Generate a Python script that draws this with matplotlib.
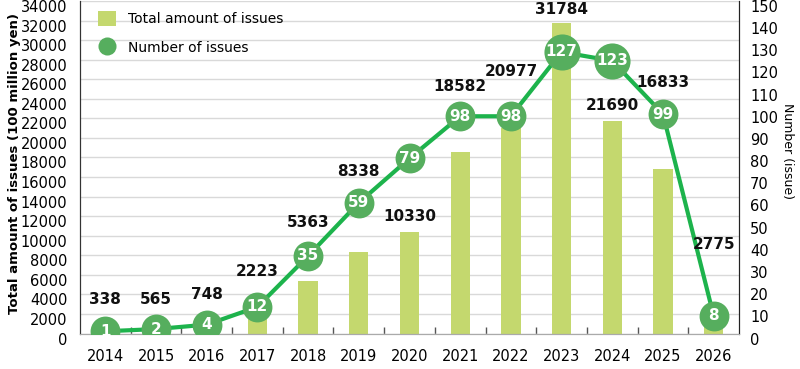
import matplotlib
matplotlib.use("Agg")
import matplotlib.pyplot as plt
from matplotlib.transforms import ScaledTranslation
from matplotlib.patches import Patch
from matplotlib.lines import Line2D
import numpy as np

years = ["2014", "2015", "2016", "2017", "2018", "2019", "2020",
         "2021", "2022", "2023", "2024", "2025", "2026"]
amounts = [338, 565, 748, 2223, 5363, 8338, 10330, 18582, 20977, 31784, 21690, 16833, 2775]
counts = [1, 2, 4, 12, 35, 59, 79, 98, 98, 127, 123, 99, 8]
# vertical placement of amount labels (left-axis units)
amount_label_y = [3430, 3430, 3940, 6320, 11300, 16520, 11920, 25210, 26740, 33090, 23270, 25620, 9050]

bar_color = "#c4d86e"
line_color = "#1db34c"
marker_color = "#56ae5e"

fig = plt.figure(figsize=(8, 3.69), dpi=100)
ax = fig.add_axes([0.1, 0.0962, 0.82375, 0.9011])
ax2 = ax.twinx()

x = np.arange(len(years))
ax.bar(x, amounts, width=0.38, color=bar_color, zorder=2)
ax.set_xlim(-0.5, len(years) - 0.5)
ax.set_ylim(0, 34000)
ax.set_yticks(np.arange(0, 34001, 2000))
ax.yaxis.grid(True, color="#d9d9d9", linewidth=1.0, zorder=0)
ax.set_axisbelow(True)

ax2.set_ylim(0, 150)
ax2.set_yticks(np.arange(0, 151, 10))

ax2.plot(x, counts, color=line_color, linewidth=3, zorder=3, solid_capstyle="round")
for xi, c in zip(x, counts):
    ms = 26 if c >= 100 else 21.5
    ax2.plot([xi], [c], marker="o", markersize=ms, color=marker_color,
             markeredgewidth=0, zorder=4, linestyle="none")
    ax2.text(xi, c, str(c), color="white", fontsize=11, fontweight="bold",
             ha="center", va="center", zorder=5)

for xi, a, ly in zip(x, amounts, amount_label_y):
    ax2.text(xi, ly, str(a), transform=ax.transData, fontsize=11, fontweight="bold",
             ha="center", va="center", color="#111111", zorder=6)

# x axis
ax.set_xticks(x)
ax.set_xticklabels(years, fontsize=10.5)
ax.set_xticks(np.arange(0.5, len(years) - 1, 1.0), minor=True)
ax.tick_params(axis="x", which="major", length=0, pad=11)
ax.tick_params(axis="x", which="minor", direction="in", length=5, color="#555555", width=1)
ax.tick_params(axis="y", length=0, labelsize=10.5, pad=9)
ax2.tick_params(axis="y", length=0, labelsize=10.5, pad=8)

off = ScaledTranslation(0, -5 / 100, fig.dpi_scale_trans)
for lab in ax.get_yticklabels() + ax2.get_yticklabels():
    lab.set_transform(lab.get_transform() + off)

for a in (ax, ax2):
    a.spines["top"].set_visible(False)
    a.spines["bottom"].set_color("#aaaaaa")
    a.spines["left"].set_color("#333333")
    a.spines["right"].set_color("#222222")

ax.set_ylabel("Total amount of issues (100 million yen)", fontsize=9.5, fontweight="bold")
ax.yaxis.set_label_coords(-0.09, 0.51)
ax2.set_ylabel("Number (issue)", fontsize=9, rotation=-90)
ax2.yaxis.set_label_coords(1.083, 0.55)

handles = [Patch(facecolor=bar_color, edgecolor="none"),
           Line2D([], [], marker="o", linestyle="none", markersize=13, color=marker_color, markeredgewidth=0)]
leg = ax2.legend(handles, ["Total amount of issues", "Number of issues"], loc="upper left",
                 bbox_to_anchor=(0.012, 1.0), frameon=False, fontsize=10,
                 handlelength=1.3, handleheight=1.3, labelspacing=1.0, handletextpad=0.9,
                 borderaxespad=0.3)

fig.savefig("out.png", dpi=100)
